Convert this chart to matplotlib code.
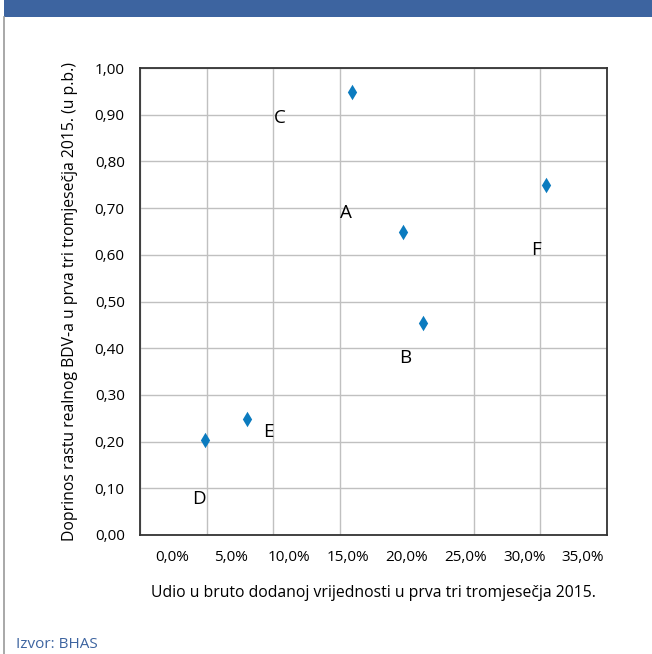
import numpy as np
import matplotlib
matplotlib.use("Agg")
import matplotlib.pyplot as plt
from matplotlib.patches import Rectangle
from matplotlib.lines import Line2D

plt.rcParams['font.family'] = ['Open Sans', 'DejaVu Sans']

# data
share = [15.9, 30.4, 19.7, 21.2, 8.05, 4.9]          # Udio u BDV, %
growth = [0.949, 0.749, 0.649, 0.453, 0.248, 0.203]  # doprinos rastu, p.b.

labels = ['C', 'A', 'F', 'B', 'E', 'D']
label_x = [10.5, 15.4, 29.7, 19.9, 9.6, 4.4]
label_y = [0.892, 0.689, 0.610, 0.380, 0.221, 0.077]

x_ticks = [0, 5, 10, 15, 20, 25, 30, 35]
y_ticks = [0.0, 0.1, 0.2, 0.3, 0.4, 0.5, 0.6, 0.7, 0.8, 0.9, 1.0]

fig = plt.figure(figsize=(6.52, 6.54), dpi=100)

# header bar and frame line
fig.add_artist(Rectangle((0.006, 1 - 17 / 654), 1, 17 / 654, transform=fig.transFigure,
                         facecolor='#3d64a0', edgecolor='none'))
fig.add_artist(Line2D([0.0065, 0.0065], [0.0, 1 - 17 / 654], transform=fig.transFigure,
                      color='#9a9a9a', lw=1.2))

ax = fig.add_axes([140 / 652, 1 - 535 / 654, 467 / 652, 467 / 654])
ax.scatter(share, growth, marker='d', s=62, color='#0b7bbf', zorder=3, linewidths=0)

for lab, lx, ly in zip(labels, label_x, label_y):
    ax.text(lx, ly, lab, fontsize=13.5, ha='center', va='center', color='black')

ax.set_xlim(0, 35)
ax.set_ylim(0, 1.0)

# grid at the real axis values
ax.set_xticks(x_ticks, minor=True)
ax.set_yticks(y_ticks)
ax.set_yticklabels([('%.2f' % v).replace('.', ',') for v in y_ticks])
ax.grid(True, which='minor', axis='x', color='#c0c0c0', lw=1.0)
ax.grid(True, which='major', axis='y', color='#c0c0c0', lw=1.0)

# x labels sit slightly offset from the grid in the original
ax.set_xticks([2.4 + 0.88 * v for v in x_ticks])
ax.set_xticklabels([('%.1f%%' % v).replace('.', ',') for v in x_ticks])
ax.tick_params(axis='both', which='both', length=0, labelsize=11, colors='black')
ax.tick_params(axis='x', pad=11)
ax.tick_params(axis='y', pad=11)

for s in ax.spines.values():
    s.set_color('#333333')
    s.set_linewidth(1.3)

ax.set_xlabel('Udio u bruto dodanoj vrijednosti u prva tri tromjesečja 2015.',
              fontsize=11.3, labelpad=14)
ax.set_ylabel('Doprinos rastu realnog BDV-a u prva tri tromjesečja 2015. (u p.b.)',
              fontsize=11.3, labelpad=12)

fig.text(16 / 652, 1 - 645 / 654, 'Izvor: BHAS', color='#3d64a0', fontsize=11,
         ha='left', va='center')

fig.savefig('out.png', dpi=100)
